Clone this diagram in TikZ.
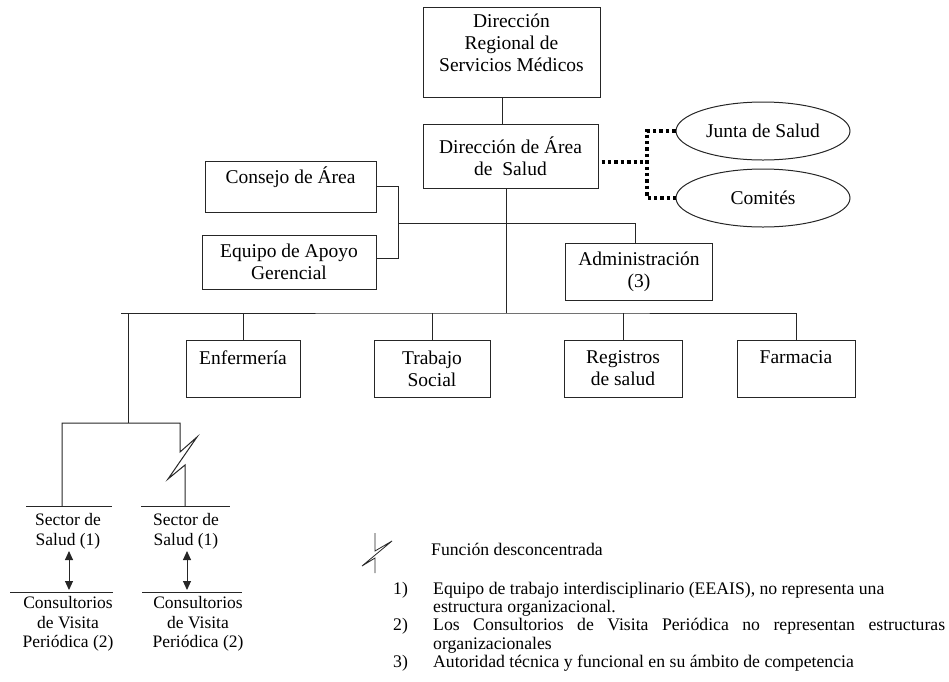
\documentclass[tikz,border=0pt]{standalone}
\usepackage{fontspec}
\setmainfont{Liberation Serif}
\usetikzlibrary{arrows.meta,shapes.geometric}
\begin{document}
\begin{tikzpicture}[x=1pt,y=-1pt,
  box/.style={draw=black!85, line width=1pt, align=center, inner sep=0pt,
    font=\fontsize{19.5}{22}\selectfont},
  ell/.style={draw=black!85, ellipse, line width=1pt, inner sep=0pt,
    minimum width=174pt, minimum height=58pt, font=\fontsize{19.5}{22}\selectfont},
  conn/.style={draw=black!85, line width=1pt},
  dotline/.style={draw=black, line width=3.6pt, dash pattern=on 3.4pt off 3pt},
  smalltxt/.style={align=center, inner sep=0pt, font=\fontsize{17.5}{19.5}\selectfont},
  notetxt/.style={inner sep=0pt, font=\fontsize{17.7}{18.25}\selectfont},
  dbl/.style={conn, {Triangle[length=9pt,width=8pt]}-{Triangle[length=9pt,width=8pt]}}
]
\useasboundingbox (0,0) rectangle (949,681);

% boxes
\node[box, minimum width=177pt, minimum height=90pt] (reg) at (511.5,52)
  {Dirección\\Regional de\\Servicios Médicos\\[-4pt]~};
\node[box, minimum width=175pt, minimum height=64pt] (area) at (510.5,156)
  {Dirección de Área\\de\ \ Salud};
\node[box, minimum width=171pt, minimum height=51pt] (consejo) at (290.5,186.5)
  {Consejo de Área\\~};
\node[box, minimum width=174pt, minimum height=54pt] (equipo) at (289,262)
  {Equipo de Apoyo\\Gerencial};
\node[box, minimum width=147pt, minimum height=57pt] (admin) at (639,272)
  {Administración\\(3)};
\node[box, minimum width=114pt, minimum height=57pt] (enf) at (243,368.5)
  {Enfermería\\~};
\node[box, minimum width=116pt, minimum height=57pt] (trab) at (432,368.5)
  {Trabajo\\Social};
\node[box, minimum width=118pt, minimum height=57pt] (regs) at (623,368.5)
  {Registros\\de salud};
\node[box, minimum width=118pt, minimum height=57pt] (farm) at (796,368.5)
  {Farmacia\\~};

% ellipses
\node[ell] (junta) at (763,131) {Junta de Salud};
\node[ell] (comites) at (763,198) {Comités};

% sector texts
\node[smalltxt] (sec1) at (68,531.5) {Sector de\\Salud (1)};
\node[smalltxt] (sec2) at (186,531.5) {Sector de\\Salud (1)};
\node[smalltxt] (cons1) at (68,624) {Consultorios\\de Visita\\Periódica (2)};
\node[smalltxt] (cons2) at (198,624) {Consultorios\\de Visita\\Periódica (2)};

% coordinates
\coordinate (xa) at (502,0);
\coordinate (xb) at (506,0);
\coordinate (bar) at (506,313);
\coordinate (barL) at (121,313);
\coordinate (kj) at (398,258);
\coordinate (hj) at (398,223);
\coordinate (ax) at (635,0);
\coordinate (dj) at (647,162);
\coordinate (lx) at (128,313);
\coordinate (lj) at (128,423);
\coordinate (b1) at (62,423);
\coordinate (b2) at (180,423);
\coordinate (s1c) at (62,506);
\coordinate (s2c) at (185,506);
\coordinate (sec1L) at (26,506);
\coordinate (sec1R) at (112,506);
\coordinate (sec2L) at (141,506);
\coordinate (sec2R) at (230,506);
\coordinate (con1L) at (10,592);
\coordinate (con1R) at (113,592);
\coordinate (con2L) at (142,592);
\coordinate (con2R) at (242,592);
\coordinate (ar1t) at (69,551);
\coordinate (ar1b) at (69,590);
\coordinate (ar2t) at (187,551);
\coordinate (ar2b) at (187,590);

% connectors
\draw[conn] (reg.south -| xa) -- (area.north -| xa);
\draw[conn] (area.south -| xb) -- (bar);
\draw[conn] (consejo.east) -| (kj) -- (equipo.east |- kj);
\draw[conn] (hj) -| (admin.north -| ax);
\draw[conn] (barL) -- (bar) -| (farm.north);
\draw[conn] (enf.north |- bar) -- (enf.north);
\draw[conn] (trab.north |- bar) -- (trab.north);
\draw[conn] (regs.north |- bar) -- (regs.north);

% dotted links
\draw[dotline] ([xshift=3pt]area.east |- dj) -- (dj);
\draw[dotline] (junta.west) -| (dj) |- (comites.west);

% left branch
\draw[conn] (lx) -- (lj);
\draw[conn] (s1c) -- (b1) -- (b2) -- (180,452) -- (197,437) -- (168,479) -- (185,465) -- (s2c);
\draw[conn] (sec1L) -- (sec1R);
\draw[conn] (sec2L) -- (sec2R);
\draw[conn] (con1L) -- (con1R);
\draw[conn] (con2L) -- (con2R);
\draw[dbl] (ar1t) -- (ar1b);
\draw[dbl] (ar2t) -- (ar2b);

% legend
\draw[conn, line width=0.8pt] (375,533) -- (375,551) -- (392,541) -- (362,566) -- (375,558) -- (375,573);
\node[notetxt, anchor=west] (fd) at (431,549) {Función desconcentrada};
\node[notetxt, anchor=north west, text width=552pt, align=justify] (notes) at (393,582)
  {\hyphenpenalty=10000\exhyphenpenalty=10000
   \hangindent=40pt\hangafter=1\makebox[40pt][l]{1)}Equipo de trabajo interdisciplinario (EEAIS), no representa una\\estructura organizacional.\par
   \hangindent=40pt\hangafter=1\makebox[40pt][l]{2)}Los Consultorios de Visita Periódica no representan estructuras\linebreak organizacionales\par
   \hangindent=40pt\hangafter=1\makebox[40pt][l]{3)}Autoridad técnica y funcional en su ámbito de competencia\par};
\end{tikzpicture}
\end{document}
